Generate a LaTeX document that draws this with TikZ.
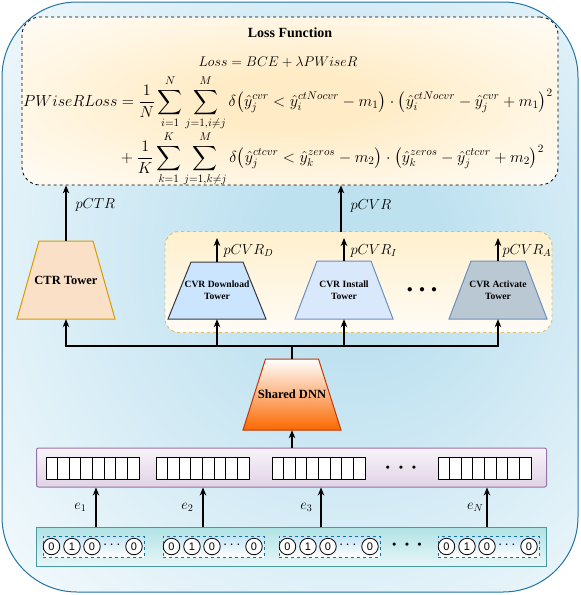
\RequirePackage{fix-cm}
\documentclass[tikz,border=0pt]{standalone}
\usepackage{amsmath}
\usepackage[no-math]{fontspec}
\setmainfont{Liberation Serif}
\newfontfamily\digitfont{Liberation Sans}
\usetikzlibrary{arrows.meta}

\definecolor{bgblue}{RGB}{190,225,240}
\definecolor{bordblue}{RGB}{35,115,165}
\definecolor{lossyel}{RGB}{255,236,198}
\definecolor{grptop}{RGB}{255,240,205}
\definecolor{grpbot}{RGB}{255,252,246}
\definecolor{grpline}{RGB}{225,190,95}
\definecolor{ctrfill}{RGB}{251,224,200}
\definecolor{ctrline}{RGB}{215,155,0}
\definecolor{dlfill}{RGB}{204,229,255}
\definecolor{dlline}{RGB}{54,57,61}
\definecolor{insfill}{RGB}{218,232,252}
\definecolor{insline}{RGB}{108,142,191}
\definecolor{actfill}{RGB}{186,200,211}
\definecolor{shfill}{RGB}{250,104,0}
\definecolor{shline}{RGB}{199,53,0}
\definecolor{embtop}{RGB}{248,243,249}
\definecolor{embbot}{RGB}{224,211,230}
\definecolor{embline}{RGB}{150,115,166}
\definecolor{inptop}{RGB}{176,226,229}
\definecolor{inpbot}{RGB}{232,246,248}
\definecolor{inpline}{RGB}{70,155,160}
\definecolor{bitline}{RGB}{16,115,158}
\definecolor{bittop}{RGB}{196,228,246}

\pgfdeclareradialshading{bgshade}{\pgfpoint{6bp}{4bp}}{color(0bp)=(bgblue); color(8bp)=(bgblue); color(46bp)=(white); color(100bp)=(white)}
\pgfdeclareradialshading{lossshade}{\pgfpoint{0bp}{0bp}}{color(0bp)=(lossyel); color(8bp)=(lossyel); color(40bp)=(white); color(100bp)=(white)}

\newcommand{\mktower}[9]{%
  \draw[#7] ({#2-#5},#3) -- ({#2+#5},#3) -- ({#2+#6},#4) -- ({#2-#6},#4) -- cycle;
  \node[towerbox, #8, minimum width={2*(#6)}, minimum height={(#4)-(#3)}] (#1) at (#2,{((#3)+(#4))/2}) {#9};
}

\begin{document}
\begin{tikzpicture}[x=1pt,y=-1pt,
  arr/.style={line width=1.1pt, -{Stealth[length=8pt,width=6.5pt,inset=2.5pt]}},
  conn/.style={line width=1.1pt},
  towerbox/.style={inner sep=0pt, align=center},
  lab/.style={font=\fontsize{14.5}{16}\selectfont, inner sep=0pt},
  bigtxt/.style={font=\bfseries\fontsize{12.5}{14}\selectfont},
  smalltxt/.style={font=\bfseries\fontsize{9.6}{12}\selectfont},
  ctrpath/.style={draw=ctrline, fill=ctrfill, line width=1pt},
  dlpath/.style={draw=dlline, fill=dlfill, line width=1pt},
  inspath/.style={draw=insline, fill=insfill, line width=1pt},
  actpath/.style={draw=insline, fill=actfill, line width=1pt},
  shpath/.style={draw=shline, top color=white, bottom color=shfill, line width=1pt},
  inbox/.style={draw=bitline, dashed, line width=0.8pt, top color=bittop, bottom color=white, minimum width=101pt, minimum height=21pt, inner sep=0pt},
  bit/.style={circle, draw, fill=white, line width=0.8pt, minimum size=16.5pt, inner sep=0pt, font=\digitfont\fontsize{11}{11}\selectfont},
  cell/.style={draw, fill=white, line width=0.8pt}
]
\useasboundingbox (0,0) rectangle (581,595);

% background
\node[draw=bordblue, line width=1pt, rounded corners=75pt, shading=bgshade,
      minimum width=576pt, minimum height=590pt, inner sep=0pt] (bg) at (290,297) {};

% loss box
\node[draw, dashed, line width=0.8pt, rounded corners=18pt, shading=lossshade,
      minimum width=536pt, minimum height=168pt, inner sep=0pt] (loss) at (290,101) {};
\node[font=\bfseries\fontsize{14}{16}\selectfont] (title) at (290,33) {Loss Function};
\node[font=\fontsize{14}{16}\selectfont] (lossdef) at (278,62) {$Loss = BCE + \lambda PWiseR$};
\node[font=\fontsize{16}{18}\selectfont, anchor=west, inner sep=0pt] (pw) at (23,131) {$\setlength\jot{0pt}\begin{aligned}
PWiseRLoss &= \frac{1}{N}\sum_{i=1}^{N}\sum_{j=1,i\neq j}^{M}\delta\big(\hat{y}_j^{cvr}<\hat{y}_i^{ctNocvr}-m_1\big)\cdot\big(\hat{y}_i^{ctNocvr}-\hat{y}_j^{cvr}+m_1\big)^2\\[0pt]
&+\frac{1}{K}\sum_{k=1}^{K}\sum_{j=1,k\neq j}^{M}\delta\big(\hat{y}_j^{ctcvr}<\hat{y}_k^{zeros}-m_2\big)\cdot\big(\hat{y}_k^{zeros}-\hat{y}_j^{ctcvr}+m_2\big)^2
\end{aligned}$};

% CVR group box
\node[draw=grpline, dashed, line width=0.9pt, rounded corners=14pt, top color=grptop, bottom color=grpbot,
      minimum width=387pt, minimum height=101pt, inner sep=0pt] (grp) at (358.5,282) {};

% towers
\mktower{ctr}{66}{241}{319}{27}{49}{ctrpath}{bigtxt}{CTR Tower}
\mktower{dl}{217}{262}{319}{26}{49}{dlpath}{smalltxt}{CVR Download\\Tower}
\mktower{ins}{344}{261}{319}{27}{49}{inspath}{smalltxt}{CVR Install\\Tower}
\mktower{act}{498}{261}{319}{27}{49}{actpath}{smalltxt}{CVR Activate\\Tower}
\mktower{sh}{292}{359}{430}{26.5}{49}{shpath}{bigtxt}{Shared DNN}
\node[font=\fontsize{11}{11}\selectfont] (tdots) at (422,290) {$\bullet\mkern7mu\bullet\mkern7mu\bullet$};

% outputs
\draw[arr] (ctr.north) -- (ctr.north |- loss.south) node[lab, pos=0.64, anchor=west, xshift=9pt] {$pCTR$};
\coordinate (cvrout) at (341,232);
\draw[arr] (cvrout) -- (cvrout |- loss.south) node[lab, pos=0.55, anchor=west, xshift=9pt] {$pCVR$};
\coordinate (dlout) at (217,238);
\coordinate (insout) at (344,238);
\coordinate (actout) at (498,238);
\draw[arr] (dl.north) -- (dlout) node[lab, pos=0.45, anchor=west, xshift=6pt] {$pCVR_D$};
\draw[arr] (ins.north) -- (insout) node[lab, pos=0.45, anchor=west, xshift=6pt] {$pCVR_I$};
\draw[arr] (act.north) -- (actout) node[lab, pos=0.45, anchor=west, xshift=4pt] {$pCVR_A$};

% bus
\coordinate (bus) at (292,346);
\draw[conn] (sh.north) -- (bus);
\draw[arr] (bus) -| (ctr.south);
\draw[arr] (bus) -| (dl.south);
\draw[arr] (bus) -| (ins.south);
\draw[arr] (bus) -| (act.south);

% embedding layer
\node[draw=embline, line width=1pt, rounded corners=2pt, top color=embtop, bottom color=embbot,
      minimum width=510pt, minimum height=39pt, inner sep=0pt] (emb) at (291.5,467.5) {};
\foreach \gx in {46,156,272,438} {
  \draw[cell] (\gx,457) rectangle ++(93,22);
  \foreach \i in {1,...,7} \draw[line width=0.8pt] ({\gx+\i*93/8},457) -- ++(0,22);
}
\node[font=\fontsize{7.5}{8}\selectfont] (edots) at (401,468) {$\bullet\mkern14mu\bullet\mkern14mu\bullet$};
\draw[arr] (sh.south |- emb.north) -- (sh.south);

% input layer
\node[draw=inpline, line width=1pt, top color=inptop, bottom color=inpbot,
      minimum width=510pt, minimum height=39pt, inner sep=0pt] (inp) at (291.5,546.5) {};
\foreach \b/\bx in {b1/43, b2/163, b3/279, b4/438} {
  \node[inbox] (\b) at ({\bx+50.5},546.5) {};
  \node[bit] (\b c1) at ({\bx+8.5},546.5) {0};
  \node[bit] (\b c2) at ({\bx+29},546.5) {1};
  \node[bit] (\b c3) at ({\bx+49},546.5) {0};
  \node[font=\fontsize{15}{15}\selectfont, inner sep=0pt] (\b d) at ({\bx+70},545) {$\cdots$};
  \node[bit] (\b c4) at ({\bx+91},546.5) {0};
}
\node[font=\fontsize{7.5}{8}\selectfont] (idots) at (407,545) {$\bullet\mkern13mu\bullet\mkern13mu\bullet$};

% embedding arrows
\coordinate (e1s) at (96,527);
\coordinate (e2s) at (203,527);
\coordinate (e3s) at (321,527);
\coordinate (eNs) at (487,527);
\draw[arr] (e1s) -- (e1s |- emb.south) node[lab, midway, anchor=east, xshift=-9pt] {$e_1$};
\draw[arr] (e2s) -- (e2s |- emb.south) node[lab, midway, anchor=east, xshift=-9pt] {$e_2$};
\draw[arr] (e3s) -- (e3s |- emb.south) node[lab, midway, anchor=east, xshift=-8pt] {$e_3$};
\draw[arr] (eNs) -- (eNs |- emb.south) node[lab, midway, anchor=east, xshift=-3pt] {$e_N$};
\end{tikzpicture}
\end{document}
